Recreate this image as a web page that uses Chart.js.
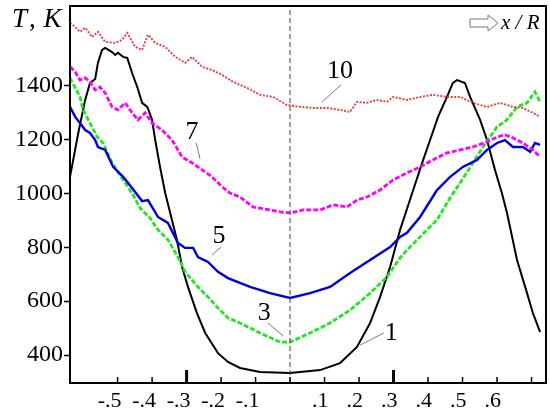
<!DOCTYPE html>
<html>
<head>
<meta charset="utf-8">
<script src="https://cdn.jsdelivr.net/npm/chart.js@4/dist/chart.umd.min.js"></script>
<style>
  html, body { margin: 0; padding: 0; background: #fff; }
  #wrap { width: 550px; height: 414px; }
</style>
</head>
<body>
<div id="wrap"><canvas id="tempChart" width="550" height="414"></canvas></div>
<script>
// x/R and temperature T (K), one pair of arrays per curve
const x1 = [-0.638, -0.614, -0.594, -0.580, -0.565, -0.557, -0.545, -0.536, -0.516, -0.507, -0.499, -0.484, -0.472, -0.458, -0.443, -0.429, -0.414, -0.400, -0.391, -0.377, -0.362, -0.328, -0.313, -0.296, -0.270, -0.246, -0.209, -0.180, -0.145, -0.087, 0, 0.087, 0.145, 0.194, 0.232, 0.261, 0.290, 0.319, 0.357, 0.383, 0.406, 0.429, 0.455, 0.472, 0.484, 0.507, 0.522, 0.551, 0.571, 0.594, 0.614, 0.629, 0.658, 0.687, 0.704, 0.725]
const t1 = [1062, 1225, 1348, 1411, 1426, 1486, 1534, 1541, 1526, 1515, 1523, 1508, 1504, 1448, 1396, 1337, 1322, 1274, 1199, 1099, 1002, 828, 727, 653, 556, 482, 407, 374, 352, 337, 333, 344, 370, 430, 519, 616, 727, 865, 1013, 1114, 1199, 1285, 1359, 1411, 1422, 1411, 1359, 1274, 1199, 1088, 1002, 928, 753, 630, 556, 485]

const x3 = [-0.638, -0.609, -0.600, -0.580, -0.559, -0.542, -0.516, -0.484, -0.455, -0.435, -0.406, -0.383, -0.354, -0.325, -0.304, -0.267, -0.238, -0.209, -0.180, -0.145, -0.087, -0.029, 0, 0.058, 0.116, 0.174, 0.232, 0.281, 0.319, 0.339, 0.377, 0.426, 0.464, 0.493, 0.530, 0.559, 0.580, 0.600, 0.629, 0.658, 0.687, 0.710, 0.725]
const t3 = [1430, 1359, 1311, 1262, 1210, 1188, 1114, 1051, 995, 946, 909, 865, 828, 764, 709, 653, 616, 575, 538, 519, 482, 448, 448, 482, 519, 567, 630, 690, 761, 790, 839, 902, 984, 1039, 1114, 1173, 1210, 1248, 1274, 1322, 1337, 1378, 1340]

const x5 = [-0.638, -0.623, -0.609, -0.594, -0.580, -0.565, -0.557, -0.536, -0.513, -0.484, -0.458, -0.429, -0.412, -0.383, -0.354, -0.325, -0.304, -0.281, -0.267, -0.238, -0.209, -0.180, -0.116, -0.058, 0, 0.058, 0.116, 0.174, 0.232, 0.290, 0.319, 0.339, 0.377, 0.426, 0.464, 0.501, 0.542, 0.571, 0.600, 0.623, 0.646, 0.675, 0.696, 0.710, 0.725]
const t5 = [1322, 1285, 1262, 1236, 1225, 1199, 1173, 1162, 1099, 1062, 1021, 972, 976, 913, 891, 816, 798, 798, 764, 746, 709, 686, 653, 630, 612, 630, 653, 705, 753, 801, 839, 854, 913, 1013, 1062, 1099, 1125, 1162, 1188, 1199, 1173, 1173, 1155, 1188, 1181]

const x7 = [-0.638, -0.623, -0.609, -0.594, -0.580, -0.565, -0.551, -0.536, -0.516, -0.499, -0.478, -0.458, -0.441, -0.420, -0.400, -0.371, -0.342, -0.313, -0.284, -0.255, -0.226, -0.197, -0.174, -0.145, -0.107, -0.058, -0.029, 0, 0.038, 0.087, 0.125, 0.165, 0.194, 0.223, 0.261, 0.299, 0.339, 0.377, 0.414, 0.455, 0.493, 0.530, 0.571, 0.600, 0.623, 0.646, 0.675, 0.704, 0.725]
const t7 = [1471, 1452, 1422, 1430, 1415, 1385, 1396, 1374, 1322, 1311, 1337, 1300, 1274, 1300, 1262, 1236, 1199, 1136, 1114, 1088, 1062, 1025, 1002, 987, 950, 939, 932, 928, 939, 939, 958, 950, 976, 987, 1013, 1051, 1077, 1099, 1125, 1151, 1162, 1173, 1192, 1210, 1218, 1207, 1188, 1162, 1136]

const x10 = [-0.638, -0.623, -0.609, -0.594, -0.574, -0.557, -0.536, -0.507, -0.487, -0.472, -0.449, -0.429, -0.412, -0.391, -0.362, -0.333, -0.304, -0.284, -0.255, -0.226, -0.197, -0.165, -0.125, -0.087, -0.049, -0.009, 0.029, 0.067, 0.107, 0.145, 0.174, 0.194, 0.223, 0.252, 0.281, 0.299, 0.339, 0.377, 0.414, 0.455, 0.493, 0.530, 0.571, 0.609, 0.646, 0.675, 0.704, 0.725]
const t10 = [1634, 1619, 1601, 1616, 1582, 1601, 1564, 1560, 1571, 1597, 1545, 1534, 1590, 1560, 1545, 1508, 1486, 1508, 1471, 1459, 1441, 1415, 1393, 1367, 1359, 1329, 1322, 1318, 1318, 1311, 1303, 1341, 1337, 1348, 1341, 1359, 1348, 1359, 1367, 1359, 1359, 1337, 1322, 1337, 1322, 1318, 1300, 1285]

// axes
const xMin = -0.638, xMax = 0.742
const yMin = 296, yMax = 1697
const xTicks = [-0.5, -0.4, -0.3, -0.2, -0.1, 0, 0.1, 0.2, 0.3, 0.4, 0.5, 0.6, 0.7]
const xMajor = [-0.3, 0.3]
const yTicks = [400, 600, 800, 1000, 1200, 1400]

// curve numbers and their leader lines (data coords)
const curveNames = ['10', '7', '5', '3', '1']
const nameX = [0.145, -0.284, -0.206, -0.075, 0.293]
const nameT = [1456, 1229, 842, 556, 482]
const leadFromX = [0.148, -0.272, -0.200, -0.064, 0.272]
const leadFromT = [1404, 1188, 801, 519, 482]
const leadToX = [0.093, -0.261, -0.226, -0.020, 0.203]
const leadToT = [1341, 1129, 772, 471, 437]

const pts = (xs, ts) => xs.map((x, i) => ({x: x, y: ts[i]}))

const serif = '"Liberation Serif", "Times New Roman", serif'

const decorations = {
  id: 'decorations',
  afterDatasetsDraw(chart) {
    const ctx = chart.ctx
    const a = chart.chartArea
    const xs = chart.scales.x, ys = chart.scales.y
    ctx.save()
    // frame
    ctx.strokeStyle = '#000'
    ctx.lineWidth = 2
    ctx.strokeRect(a.left, a.top, a.right - a.left, a.bottom - a.top)
    // inward x ticks
    xTicks.forEach(v => {
      const px = xs.getPixelForValue(v)
      const major = xMajor.includes(v)
      ctx.lineWidth = major ? 3 : 1.5
      ctx.beginPath()
      ctx.moveTo(px, a.bottom)
      ctx.lineTo(px, a.bottom - (major ? 13 : 6))
      ctx.stroke()
    })
    // curve numbers
    ctx.fillStyle = '#000'
    ctx.font = '26px ' + serif
    ctx.textAlign = 'center'
    ctx.textBaseline = 'middle'
    curveNames.forEach((n, i) => {
      ctx.fillText(n, xs.getPixelForValue(nameX[i]), ys.getPixelForValue(nameT[i]))
      ctx.strokeStyle = '#555'
      ctx.lineWidth = 0.8
      ctx.beginPath()
      ctx.moveTo(xs.getPixelForValue(leadFromX[i]), ys.getPixelForValue(leadFromT[i]))
      ctx.lineTo(xs.getPixelForValue(leadToX[i]), ys.getPixelForValue(leadToT[i]))
      ctx.stroke()
    })
    // axis title T, K
    ctx.textAlign = 'left'
    let tx = 12
    ctx.font = 'italic 27px ' + serif
    ctx.fillText('T', tx, 20)
    tx += ctx.measureText('T').width + 2
    ctx.font = '27px ' + serif
    ctx.fillText(',', tx, 20)
    tx += ctx.measureText(', ').width + 1
    ctx.font = 'italic 27px ' + serif
    ctx.fillText('K', tx, 20)
    // arrow and x / R
    ctx.strokeStyle = '#777'
    ctx.fillStyle = '#fff'
    ctx.lineWidth = 1
    ctx.beginPath()
    ctx.moveTo(470, 19); ctx.lineTo(488, 19); ctx.lineTo(488, 15)
    ctx.lineTo(498, 23); ctx.lineTo(488, 31); ctx.lineTo(488, 27)
    ctx.lineTo(470, 27); ctx.closePath()
    ctx.fill(); ctx.stroke()
    ctx.fillStyle = '#000'
    ctx.font = 'italic 21px ' + serif
    ctx.fillText('x / R', 501, 23)
    ctx.restore()
  }
}

new Chart(document.getElementById('tempChart'), {
  type: 'line',
  data: {
    datasets: [
      {data: [{x: 0, y: yMin}, {x: 0, y: yMax}], borderColor: '#444', borderWidth: 1, borderDash: [5, 3]},
      {data: pts(x10, t10), borderColor: '#e63c3c', borderWidth: 1.9, borderDash: [2, 1.5]},
      {data: pts(x7, t7), borderColor: '#ff00ff', borderWidth: 2.8, borderDash: [5, 2]},
      {data: pts(x5, t5), borderColor: '#0000dd', borderWidth: 2.4},
      {data: pts(x3, t3), borderColor: '#22e622', borderWidth: 2.8, borderDash: [5, 2]},
      {data: pts(x1, t1), borderColor: '#000', borderWidth: 2}
    ]
  },
  options: {
    responsive: false,
    animation: false,
    layout: {padding: {top: 6, right: 4, left: 0, bottom: 0}},
    elements: {point: {radius: 0}, line: {tension: 0}},
    plugins: {legend: {display: false}, tooltip: {enabled: false}},
    scales: {
      x: {
        type: 'linear', min: xMin, max: xMax,
        afterBuildTicks: s => { s.ticks = xTicks.map(v => ({value: v})) },
        afterFit: s => { s.height = 31; s.paddingLeft = 0; s.paddingRight = 0 },
        grid: {drawOnChartArea: false, drawTicks: false},
        border: {color: '#000', width: 2},
        ticks: {
          autoSkip: false, maxRotation: 0, padding: 5, align: 'end', labelOffset: 4,
          color: '#000', font: {family: serif, size: 22},
          callback: v => (Math.abs(v) < 1e-9 || Math.abs(v - 0.7) < 1e-9) ? '' : (v < 0 ? '-' : '') + '.' + Math.round(Math.abs(v) * 10)
        }
      },
      y: {
        min: yMin, max: yMax,
        afterBuildTicks: s => { s.ticks = yTicks.map(v => ({value: v})) },
        afterFit: s => { s.width = 70; s.paddingTop = 0; s.paddingBottom = 0 },
        grid: {drawOnChartArea: false, drawTicks: true, tickLength: 6, tickColor: '#000', tickWidth: 1.5},
        border: {color: '#000', width: 2},
        ticks: {padding: 1, color: '#000', font: {family: serif, size: 24}, callback: v => String(v)}
      }
    }
  },
  plugins: [decorations]
})
</script>
</body>
</html>
